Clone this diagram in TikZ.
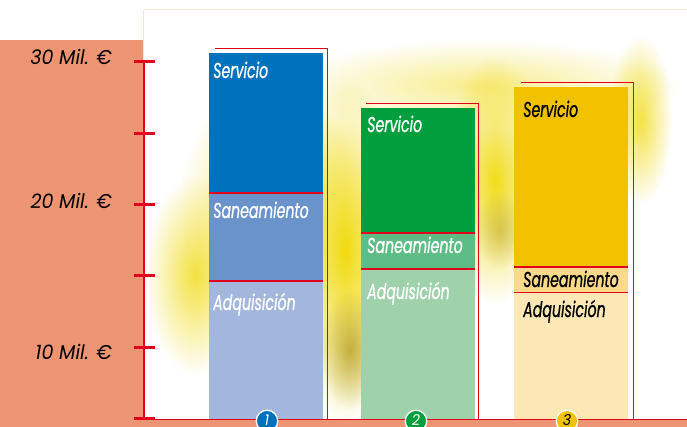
\documentclass[tikz,border=0pt]{standalone}
\usepackage{fontspec}
\usetikzlibrary{fadings}
\newfontfamily\barfont[FakeStretch=0.66, FakeBold=0.8]{Poppins}
\newfontfamily\axfont[FakeStretch=0.95]{Poppins}
\definecolor{salmon}{HTML}{ED9473}
\definecolor{axred}{HTML}{E2001A}
\definecolor{beige}{HTML}{F3E9D2}
\definecolor{blueA}{HTML}{0071BC}
\definecolor{blueB}{HTML}{6A93CB}
\definecolor{blueC}{HTML}{A3B6DC}
\definecolor{greenA}{HTML}{009E3D}
\definecolor{greenB}{HTML}{5DBD86}
\definecolor{greenC}{HTML}{9FD1AB}
\definecolor{yelA}{HTML}{F2C200}
\definecolor{yelB}{HTML}{FADA8A}
\definecolor{yelC}{HTML}{FDE8B5}
\definecolor{banana}{HTML}{F0D800}
\definecolor{ochre}{HTML}{A88E10}
\tikzfading[name=blob, inner color=transparent!0, outer color=transparent!100]
\tikzset{
  barlabel/.style={anchor=base west, inner sep=0pt, font=\barfont\itshape\fontsize{21.5}{21.5}\selectfont},
  axlabel/.style={anchor=base east, inner sep=0pt, font=\axfont\itshape\fontsize{20}{20}\selectfont, text=black},
  divider/.style={axred, line width=2.2pt},
  frameline/.style={axred, line width=1pt},
  tick/.style={axred, line width=3pt},
  numcircle/.style={circle, draw=white, line width=1.3pt, minimum size=21.5pt, inner sep=0pt, font=\axfont\itshape\fontsize{15}{15}\selectfont}
}
\begin{document}
\begin{tikzpicture}[x=1pt,y=-1pt]
\useasboundingbox (0,0) rectangle (687,427);
\clip (0,0) rectangle (687,427);
% background
\fill[white] (0,0) rectangle (687,427);
\draw[beige, line width=1pt] (143.5,420) -- (143.5,9.5) -- (687,9.5);
% blurred banana
\fill[banana, path fading=blob, opacity=0.75] (195,275) ellipse [x radius=50, y radius=100];
\fill[banana, path fading=blob, opacity=0.6] (270,200) ellipse [x radius=90, y radius=120];
\fill[banana, path fading=blob, opacity=0.95] (345,250) ellipse [x radius=55, y radius=175];
\fill[ochre, path fading=blob, opacity=0.65] (350,350) ellipse [x radius=30, y radius=60];
\fill[banana, path fading=blob, opacity=0.9] (495,180) ellipse [x radius=50, y radius=125];
\fill[ochre, path fading=blob, opacity=0.4] (500,230) ellipse [x radius=25, y radius=40];
\fill[banana, path fading=blob, opacity=0.75] (640,120) ellipse [x radius=32, y radius=85];
\fill[banana, path fading=blob, opacity=0.45] (480,85) ellipse [x radius=200, y radius=45];
% salmon panels
\fill[salmon] (0,40) rectangle (143,427);
\fill[salmon] (0,420) rectangle (687,427);
% bar 1
\fill[blueA] (209,53) rectangle (323,193);
\fill[blueB] (209,193) rectangle (323,281);
\fill[blueC] (209,281) rectangle (323,420);
\draw[divider] (209,193) -- (323,193);
\draw[divider] (209,281) -- (323,281);
\draw[frameline] (215,49) -- (327.5,49) -- (327.5,420);
% bar 2
\fill[greenA] (361,108) rectangle (475,232.7);
\fill[greenB] (361,232.7) rectangle (475,269);
\fill[greenC] (361,269) rectangle (475,420);
\draw[divider] (361,232.7) -- (475,232.7);
\draw[divider] (361,269) -- (475,269);
\draw[frameline] (366,103.3) -- (478.3,103.3) -- (478.3,420);
% bar 3
\fill[yelA] (514,87.3) rectangle (628,266.7);
\fill[yelB] (514,266.7) rectangle (628,292.3);
\fill[yelC] (514,292.3) rectangle (628,420);
\draw[divider] (514,266.7) -- (628,266.7);
\draw[axred, line width=1.4pt] (514,292.3) -- (628,292.3);
\draw[frameline] (521,82.7) -- (633.5,82.7) -- (633.5,420);
% bar labels
\node[barlabel, text=white] (s1) at (213,78) {Servicio};
\node[barlabel, text=white] (n1) at (213,218) {Saneamiento};
\node[barlabel, text=white] (a1) at (213,310) {Adquisición};
\node[barlabel, text=white] (s2) at (367,132) {Servicio};
\node[barlabel, text=white] (n2) at (367,253) {Saneamiento};
\node[barlabel, text=white] (a2) at (367,299) {Adquisición};
\node[barlabel, text=black] (s3) at (523,117) {Servicio};
\node[barlabel, text=black] (n3) at (523,287) {Saneamiento};
\node[barlabel, text=black] (a3) at (523,317) {Adquisición};
% axis
\draw[axred, line width=1.2pt] (144,62) -- (144,420);
\draw[axred, line width=1.2pt] (144,419.6) -- (687,419.6);
\foreach \yy in {62,133.3,204.7,276,347.3,418.7}
  \draw[tick] (134,\yy) -- (155,\yy);
\node[axlabel] (l30) at (112,65) {30 Mil. €};
\node[axlabel] (l20) at (112,209) {20 Mil. €};
\node[axlabel] (l10) at (112,359) {10 Mil. €};
% numbered circles
\node[numcircle, fill=blueA, text=white] (c1) at (267,421) {\raisebox{2pt}{1}};
\node[numcircle, fill=greenA, text=white] (c2) at (416,421) {\raisebox{2pt}{2}};
\node[numcircle, fill=yelA, text=black] (c3) at (567,421) {\raisebox{2pt}{3}};
\end{tikzpicture}
\end{document}
